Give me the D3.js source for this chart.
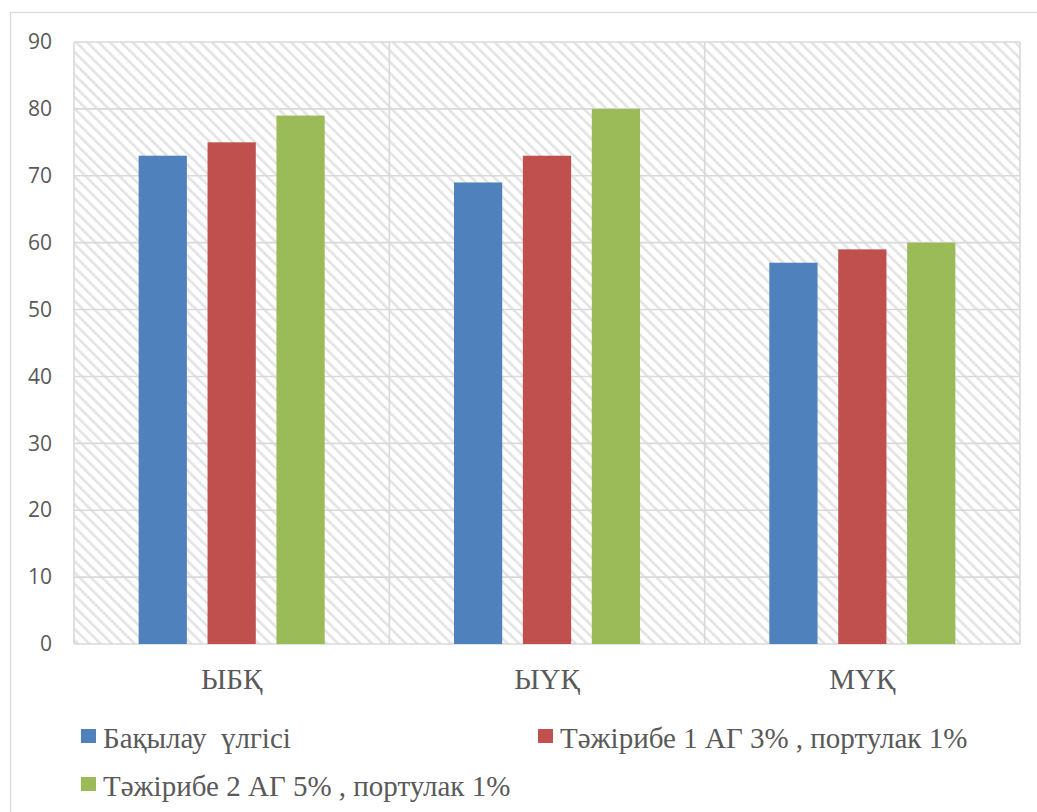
<!DOCTYPE html>
<html>
<head>
<meta charset="utf-8">
<script src="https://cdn.jsdelivr.net/npm/d3@7"></script>
<style>
  body { margin: 0; background: #fff; }
</style>
</head>
<body>
<svg id="chart" width="1037" height="812"></svg>
<script>
const categories = ["ЫБҚ", "ЫҮҚ", "МҮҚ"];
const seriesNames = ["Бақылау  үлгісі", "Тәжірибе 1 АГ 3% , портулак 1%", "Тәжірибе 2 АГ 5% , портулак 1%"];
const seriesValues = [
  [73, 69, 57],
  [75, 73, 59],
  [79, 80, 60]
];
const yTicks = [0, 10, 20, 30, 40, 50, 60, 70, 80, 90];
const colors = ["#4F81BD", "#C0504D", "#9BBB59"];

const svg = d3.select("#chart");
const margin = {top: 42, right: 17, bottom: 168, left: 74};
const width = 1037 - margin.left - margin.right,
      height = 812 - margin.top - margin.bottom;
const serif = "'Liberation Serif', 'Times New Roman', serif";

// hatched background pattern
const defs = svg.append("defs");
const pat = defs.append("pattern")
  .attr("id", "hatch")
  .attr("patternUnits", "userSpaceOnUse")
  .attr("width", 8).attr("height", 8)
  .attr("patternTransform", "rotate(-45)");
pat.append("rect").attr("width", 8).attr("height", 8).attr("fill", "#fff");
pat.append("rect").attr("x", 0).attr("width", 2.6).attr("height", 8).attr("fill", "#e3e3e3");

// outer chart border
svg.append("rect")
  .attr("x", 10.5).attr("y", 12.5)
  .attr("width", 1040).attr("height", 820)
  .attr("fill", "none").attr("stroke", "#d9d9d9").attr("stroke-width", 1.2);

const g = svg.append("g").attr("transform", `translate(${margin.left},${margin.top})`);

const x0 = d3.scaleBand().domain(categories).range([0, width]);
const x1 = d3.scaleBand().domain(d3.range(seriesNames.length))
  .range([x0.bandwidth() * 0.205, x0.bandwidth() * 0.795]).paddingInner(0.3);
const y = d3.scaleLinear().domain([0, 90]).range([height, 0]);

g.append("rect").attr("width", width).attr("height", height).attr("fill", "url(#hatch)");

// horizontal gridlines
g.selectAll(".hgrid").data(yTicks).enter().append("line")
  .attr("x1", 0).attr("x2", width)
  .attr("y1", d => y(d)).attr("y2", d => y(d))
  .attr("stroke", "#d9d9d9").attr("stroke-width", 1.6);

// vertical gridlines at category boundaries
const bounds = categories.map(c => x0(c)).concat([width]);
g.selectAll(".vgrid").data(bounds).enter().append("line")
  .attr("x1", d => d).attr("x2", d => d)
  .attr("y1", 0).attr("y2", height)
  .attr("stroke", "#d9d9d9").attr("stroke-width", 1.6);

// bars
seriesValues.forEach((vals, si) => {
  g.selectAll(".bar" + si).data(vals).enter().append("rect")
    .attr("x", (d, i) => x0(categories[i]) + x1(si))
    .attr("y", d => y(d))
    .attr("width", x1.bandwidth())
    .attr("height", d => height - y(d))
    .attr("fill", colors[si]);
});

// y axis labels
const yAxis = g.append("g").call(d3.axisLeft(y).tickValues(yTicks).tickSize(0).tickPadding(22));
yAxis.select(".domain").remove();
yAxis.selectAll("text")
  .attr("fill", "#595959")
  .style("font-family", "'Open Sans', 'Liberation Sans', sans-serif")
  .style("font-size", "21px");

// x axis labels
const xAxis = g.append("g").attr("transform", `translate(0,${height})`)
  .call(d3.axisBottom(x0).tickSize(0).tickPadding(24));
xAxis.select(".domain").remove();
xAxis.selectAll("text")
  .attr("fill", "#595959")
  .style("font-family", serif)
  .style("font-size", "29px");

// legend
const legendPos = [[81, 729], [538, 729], [81, 777]];
const legend = svg.selectAll(".legend").data(seriesNames).enter().append("g")
  .attr("transform", (d, i) => `translate(${legendPos[i][0]},${legendPos[i][1]})`);
legend.append("rect").attr("width", 15).attr("height", 14).attr("fill", (d, i) => colors[i]);
legend.append("text")
  .attr("x", 22).attr("y", 19)
  .attr("fill", "#595959")
  .style("font-family", serif)
  .style("font-size", "29px")
  .style("white-space", "pre")
  .attr("xml:space", "preserve")
  .text(d => d);
</script>
</body>
</html>
